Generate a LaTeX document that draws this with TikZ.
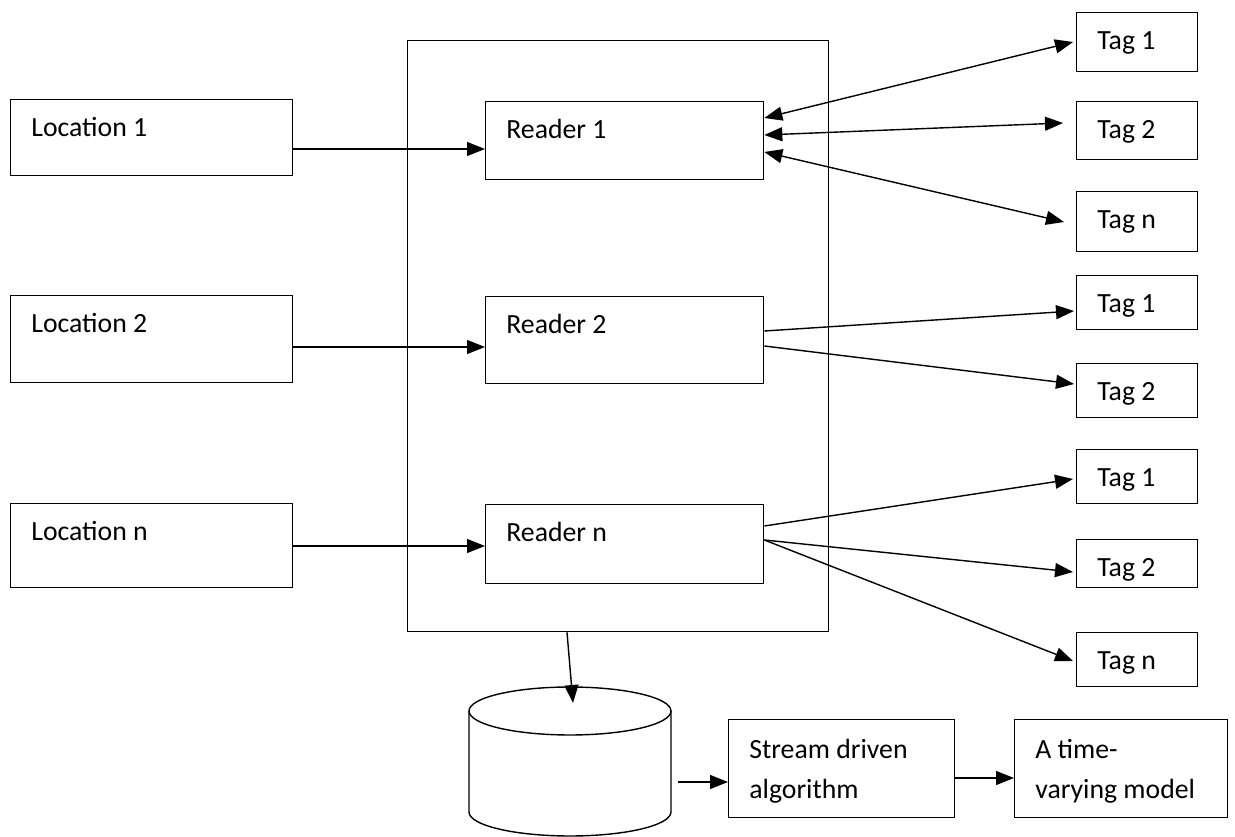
\documentclass[tikz,border=0pt]{standalone}
\usepackage{fontspec}
\setmainfont{Carlito}
\usetikzlibrary{arrows.meta,calc}
\tikzset{
  bx/.style={draw=black, line width=0.8pt, rectangle, inner sep=0pt, anchor=north west},
  lbl/.style={anchor=base west, inner sep=0pt, align=left, font=\fontsize{15.8}{23}\selectfont},
  tip/.style={Triangle[length=0.36cm,width=0.28cm]},
  arr/.style={line width=0.8pt, -{Triangle[length=0.36cm,width=0.28cm]}},
  darr/.style={line width=0.8pt, {Triangle[length=0.36cm,width=0.28cm]}-{Triangle[length=0.36cm,width=0.28cm]}}
}
\newcommand\mkbox[4]{\node[bx, minimum width=#3, minimum height=#4] (#1) at (#2) {};}
\newcommand\mklbl[3]{\node[lbl] (#1) at ($(#2.north west)+(21,38)$) {#3};}
\newcommand\mklbltwo[3]{\node[lbl] (#1) at ($(#2.north west)+(21,80)$) {#3};}
\begin{document}
\begin{tikzpicture}[x=0.02cm, y=-0.02cm]
\useasboundingbox (0,0) rectangle (1235,837);
% boxes
\mkbox{big}{407,40}{8.42cm}{11.82cm}
\mkbox{loc1}{10,99}{5.64cm}{1.52cm}
\mkbox{loc2}{10,295}{5.64cm}{1.74cm}
\mkbox{locn}{10,503}{5.64cm}{1.68cm}
\mkbox{r1}{485,101}{5.56cm}{1.56cm}
\mkbox{r2}{485,296}{5.56cm}{1.74cm}
\mkbox{rn}{485,504}{5.56cm}{1.58cm}
\mkbox{ta1}{1076,12}{2.42cm}{1.18cm}
\mkbox{ta2}{1076,101}{2.42cm}{1.16cm}
\mkbox{tan}{1076,191}{2.42cm}{1.20cm}
\mkbox{tb1}{1076,275}{2.42cm}{1.08cm}
\mkbox{tb2}{1076,363}{2.42cm}{1.08cm}
\mkbox{tc1}{1076,449}{2.42cm}{1.08cm}
\mkbox{tc2}{1076,539}{2.42cm}{0.96cm}
\mkbox{tcn}{1076,632}{2.42cm}{1.08cm}
\mkbox{stream}{728,719}{4.52cm}{1.96cm}
\mkbox{model}{1014,719}{4.26cm}{1.96cm}
% labels
\mklbl{l1}{loc1}{Location 1}
\mklbl{l2}{loc2}{Location 2}
\mklbl{ln}{locn}{Location n}
\mklbl{lr1}{r1}{Reader 1}
\mklbl{lr2}{r2}{Reader 2}
\mklbl{lrn}{rn}{Reader n}
\mklbl{lta1}{ta1}{Tag 1}
\mklbl{lta2}{ta2}{Tag 2}
\mklbl{ltan}{tan}{Tag n}
\mklbl{ltb1}{tb1}{Tag 1}
\mklbl{ltb2}{tb2}{Tag 2}
\mklbl{ltc1}{tc1}{Tag 1}
\mklbl{ltc2}{tc2}{Tag 2}
\mklbl{ltcn}{tcn}{Tag n}
\mklbltwo{lst}{stream}{Stream driven\\algorithm}
\mklbltwo{lmo}{model}{A time-\\varying model}
% database cylinder
\draw[line width=0.8pt] (570,711) ellipse [x radius=2.02cm, y radius=0.48cm];
\draw[line width=0.8pt] (469,711) -- (469,812) arc[start angle=180, end angle=360, x radius=2.02cm, y radius=0.48cm] -- (671,711);
\coordinate (dbtop) at (573,703);
\coordinate (dbright) at (678,782);
% arrows locations -> readers
\draw[arr] ($(loc1.north east)+(0,50)$) -- ($(r1.north west)+(0,48)$);
\draw[arr] ($(loc2.north east)+(0,52)$) -- ($(r2.north west)+(0,51)$);
\draw[arr] ($(locn.north east)+(0,43)$) -- ($(rn.north west)+(0,42)$);
% reader 1 <-> tags
\draw[darr] ($(r1.north east)+(0,17)$) -- ($(ta1.north west)+(-3,30)$);
\draw[darr] ($(r1.north east)+(0,34)$) -- ($(ta2.north west)+(-13,22)$);
\draw[darr] ($(r1.north east)+(0,51)$) -- ($(tan.north west)+(-12,31)$);
% reader 2 -> tags
\draw[arr] ($(r2.north east)+(0,35)$) -- ($(tb1.north west)+(-2,36)$);
\draw[arr] ($(r2.north east)+(0,50)$) -- ($(tb2.north west)+(-2,21)$);
% reader n -> tags
\draw[arr] ($(rn.north east)+(0,22)$) -- ($(tc1.north west)+(-3,30)$);
\draw[arr] ($(rn.north east)+(0,36)$) -- ($(tc2.north west)+(-3,33)$);
\draw[arr] ($(rn.north east)+(0,36)$) -- ($(tcn.north west)+(-3,29)$);
% bottom flow
\draw[arr] ($(big.south west)+(160,0)$) -- (dbtop);
\draw[arr] (dbright) -- ($(stream.north west)+(0,63)$);
\draw[arr] ($(stream.north east)+(0,59)$) -- ($(model.north west)+(0,59)$);
\end{tikzpicture}
\end{document}
